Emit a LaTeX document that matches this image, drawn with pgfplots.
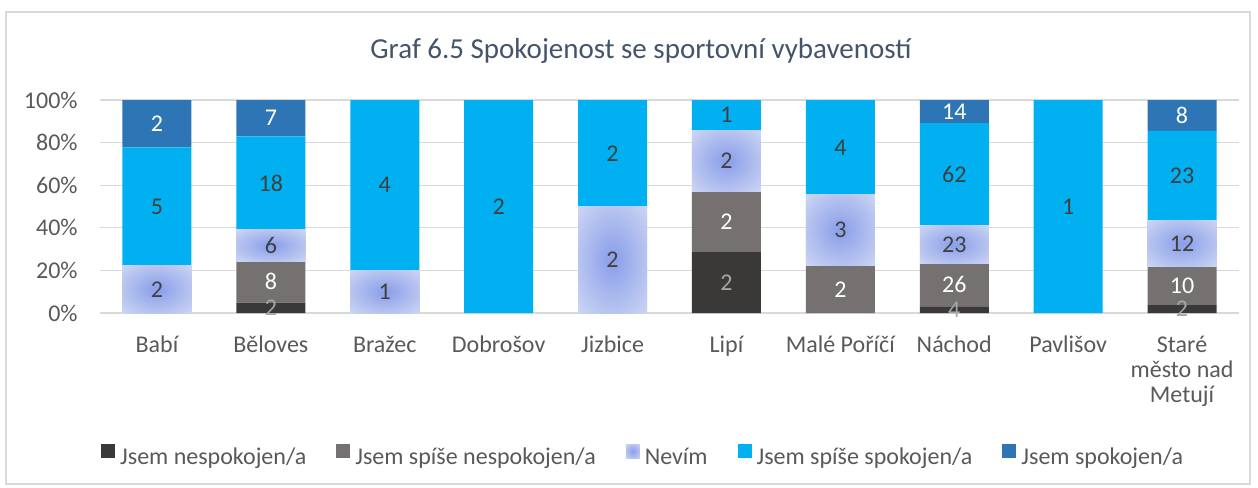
\documentclass[border=0pt]{standalone}
\usepackage{pgfplots}
\pgfplotsset{compat=1.18}
\usepackage{pgfplotstable}
\usepackage{fontspec}
\setmainfont{Carlito}

\definecolor{cNesp}{HTML}{3B3838}
\definecolor{cSpNesp}{HTML}{767171}
\definecolor{cSpSp}{HTML}{00B0F0}
\definecolor{cSp}{HTML}{2E75B6}
\definecolor{nevimIn}{HTML}{8EA2EA}
\definecolor{nevimOut}{HTML}{D9E0F5}
\definecolor{gridc}{HTML}{D9D9D9}
\definecolor{txt}{HTML}{595959}
\definecolor{lbl}{HTML}{404040}
\definecolor{titlec}{HTML}{44546A}

\pgfdeclareradialshading{nevim}{\pgfpoint{0bp}{0bp}}{color(0bp)=(nevimIn); color(3bp)=(nevimIn); color(42bp)=(nevimOut); color(100bp)=(nevimOut)}

% the label node of each "Nevim" segment covers the segment with the radial shading
\tikzset{nevim node/.code={%
  \ifdim\segh pt>0.01pt
    \pgfkeysalso{shading=nevim, minimum width=34.5pt, minimum height=1.065pt*\segh}%
  \fi}}

% counts (n) and shares in percent (p), per town
\pgfplotstableread{
x n1 p1 n2 p2 n3 p3 n4 p4 n5 p5
0 0 0 0 0 2 22.22 5 55.56 2 22.22
1 2 4.88 8 19.51 6 14.63 18 43.90 7 17.08
2 0 0 0 0 1 20 4 80 0 0
3 0 0 0 0 0 0 2 100 0 0
4 0 0 0 0 2 50 2 50 0 0
5 2 28.57 2 28.57 2 28.57 1 14.29 0 0
6 0 0 2 22.22 3 33.33 4 44.45 0 0
7 4 3.10 26 20.16 23 17.83 62 48.06 14 10.85
8 0 0 0 0 0 0 1 100 0 0
9 2 3.64 10 18.18 12 21.82 23 41.82 8 14.54
}\data

\begin{document}
\begin{tikzpicture}
\begin{axis}[
  scale only axis, width=569.5pt, height=106.5pt,
  ybar stacked, bar width=34.5pt,
  xmin=-0.5, xmax=9.5, ymin=0, ymax=100,
  xtick=data,
  xticklabels={Babí,Běloves,Bražec,Dobrošov,Jizbice,Lipí,Malé Poříčí,Náchod,Pavlišov,{Staré\\město nad\\Metují}},
  ytick={0,20,...,100},
  yticklabel={\pgfmathprintnumber{\tick}\%},
  /pgf/number format/assume math mode=true,
  axis line style={draw=none},
  major tick length=0pt,
  ymajorgrids, grid style={gridc, line width=0.65pt},
  typeset ticklabels with strut,
  tick label style={font=\fontsize{12}{12.5}\selectfont, color=txt},
  xticklabel style={align=center, anchor=north, inner sep=0pt, yshift=-10.75pt},
  yticklabel style={anchor=east, inner sep=0pt, xshift=-11pt},
  point meta=explicit,
  nodes near coords={\pgfmathfloatifflags{\pgfplotspointmeta}{0}{}{\pgfmathprintnumber{\pgfplotspointmeta}}},
  every node near coord/.append style={anchor=center, inner sep=0pt, font=\fontsize{12}{12.5}\selectfont},
  legend columns=5,
  legend style={draw=none, fill=none, font=\fontsize{12}{12.5}\selectfont, text=txt,
    at={(rel axis cs:0.476,-0.676)}, anchor=center,
    nodes={inner xsep=0pt, inner ysep=1pt},
    /tikz/every odd column/.append style={column sep=2.5pt},
    /tikz/every even column/.append style={column sep=15pt}},
  legend image code/.code={\fill[#1] (0pt,-0.2pt) rectangle (7pt,6.8pt);},
]
\addplot[fill=cNesp, draw=none, every node near coord/.append style={text=black!35}]
  table[x=x, y=p1, meta=n1] {\data};
\addplot[fill=cSpNesp, draw=none, every node near coord/.append style={text=white}]
  table[x=x, y=p2, meta=n2] {\data};
\addplot[fill=nevimOut, draw=none, visualization depends on={rawy\as\segh},
  every node near coord/.append style={text=lbl, nevim node},
  legend image code/.code={\shade[shading=nevim] (0pt,-0.2pt) rectangle (7pt,6.8pt);}]
  table[x=x, y=p3, meta=n3] {\data};
\addplot[fill=cSpSp, draw=none, every node near coord/.append style={text=lbl}]
  table[x=x, y=p4, meta=n4] {\data};
\addplot[fill=cSp, draw=none, every node near coord/.append style={text=white}]
  table[x=x, y=p5, meta=n5] {\data};
\legend{Jsem nespokojen/a, Jsem spíše nespokojen/a, Nevím, Jsem spíše spokojen/a, Jsem spokojen/a}
\coordinate (ttl) at (rel axis cs:0.475,1.197);
\coordinate (brd1) at (rel axis cs:-0.0826,-0.803);
\coordinate (brd2) at (rel axis cs:1.0096,1.4133);
\coordinate (bb1) at (rel axis cs:-0.0878,-0.8216);
\coordinate (bb2) at (rel axis cs:1.0167,1.4695);
\end{axis}
\node[anchor=base, text=titlec, font=\fontsize{14.5}{17}\selectfont] at (ttl) {Graf 6.5 Spokojenost se sportovní vybaveností};
\draw[gridc, line width=0.75pt] (brd1) rectangle (brd2);
\pgfresetboundingbox
\path[use as bounding box] (bb1) rectangle (bb2);
\end{tikzpicture}
\end{document}
